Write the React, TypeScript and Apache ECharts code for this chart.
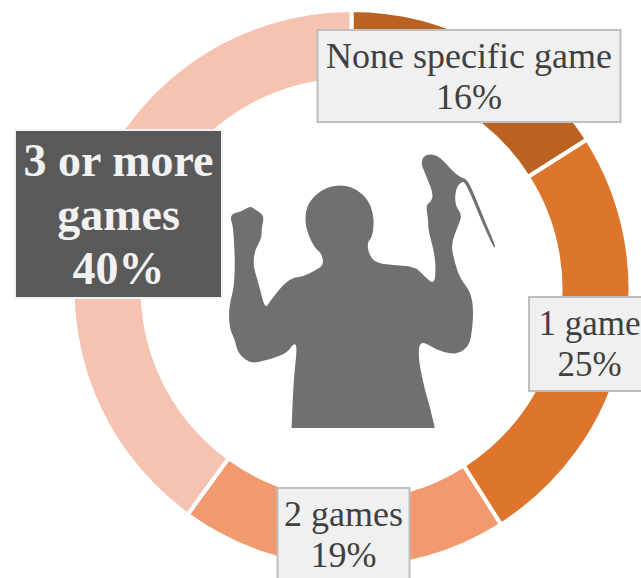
import React, { useEffect, useRef } from "react";
import * as echarts from "echarts";

const categories = ["None specific game", "1 game", "2 games", "3 or more games"];
const labelNames = ["None specific game", "1 game", "2 games", "3 or more\ngames"];
const shares = [16, 25, 19, 40];
const sliceColors = ["#B96222", "#DE752C", "#F19A6F", "#F6C2B1"];
const labelFontSizes = [36, 35, 36, 46];

// Label boxes: centre x, centre y, width, height
const labelBoxes = [
  [469, 76, 301, 90],
  [589.5, 344, 119, 92],
  [343.5, 534, 130, 90],
  [118.5, 214, 205, 166],
];

// Silhouette outline, smoothed through the midpoints of its segments when built
const PERSON_OUTLINE = [
  [215, 835], [215, 835], [218, 760], [222, 680], [232, 590], [222, 580], [205, 605], [180, 618], [135, 632],
  [100, 640], [75, 630], [52, 605], [45, 570], [30, 540], [26, 490], [32, 450], [42, 410], [45, 340],
  [42, 270], [38, 225], [31, 205], [38, 190], [65, 185], [90, 168], [108, 180], [130, 195], [130, 215],
  [125, 235], [125, 265], [105, 300], [100, 340], [105, 365], [118, 410], [135, 477], [150, 455], [185, 410],
  [215, 385], [250, 380], [285, 362], [312, 345], [305, 310], [285, 295], [265, 255], [255, 215], [260, 170],
  [285, 135], [320, 112], [370, 104], [415, 120], [445, 150], [460, 190], [462, 230], [455, 265], [443, 275],
  [445, 308], [465, 338], [510, 345], [585, 350], [610, 375], [645, 407], [648, 340], [640, 295], [632, 265],
  [625, 235], [625, 205], [618, 165], [635, 155], [640, 130], [622, 85], [612, 60], [604, 40], [612, 16],
  [640, 12], [665, 25], [690, 55], [720, 82], [742, 88], [762, 130], [792, 205], [826, 285], [826, 295],
  [818, 285], [784, 210], [754, 135], [735, 97], [725, 95], [708, 115], [705, 165], [728, 195], [712, 235],
  [695, 280], [700, 320], [720, 385], [752, 425], [762, 480], [755, 560], [745, 590], [720, 610], [690, 612],
  [650, 600], [600, 570], [595, 625], [615, 720], [630, 770], [645, 835], [645, 835],
];

const mid = (a: number[], b: number[]) => `${(a[0] + b[0]) / 2},${(a[1] + b[1]) / 2}`;
const PERSON_PATH =
  `M${PERSON_OUTLINE[0].join(",")} ` +
  PERSON_OUTLINE.slice(1, -1)
    .map((p, i) => `Q${p.join(",")} ${mid(p, PERSON_OUTLINE[i + 2])}`)
    .join(" ") +
  " Z";

echarts.graphic.registerShape("person", echarts.graphic.extendPath(PERSON_PATH, {}) as any);

export default function App() {
  const ref = useRef<HTMLDivElement>(null);

  useEffect(() => {
    document.body.style.margin = "0";
    const chart = echarts.init(ref.current!, undefined, { renderer: "svg" });

    const data = categories.map((name, i) => {
      const emphasised = i === 3;
      const [, , width, height] = labelBoxes[i];
      return {
        name,
        value: shares[i],
        itemStyle: { color: sliceColors[i] },
        label: {
          formatter: `${labelNames[i]}\n${shares[i]}%`,
          width,
          height,
          align: "center" as const,
          verticalAlign: "middle" as const,
          fontFamily: "'Liberation Serif', serif",
          fontSize: labelFontSizes[i],
          fontWeight: emphasised ? ("bold" as const) : ("normal" as const),
          lineHeight: emphasised ? 54 : 41,
          color: emphasised ? "#F2F2F2" : "#404040",
          backgroundColor: emphasised ? "#595959" : "#F0F0F0",
          borderColor: emphasised ? "#F2F2F2" : "#BFBFBF",
          borderWidth: 2,
        },
      };
    });

    chart.setOption({
      animation: false,
      backgroundColor: "#FFFFFF",
      series: [
        {
          type: "pie",
          center: [351.5, 289],
          radius: [209, 279],
          startAngle: 90,
          clockwise: true,
          avoidLabelOverlap: false,
          silent: true,
          itemStyle: { borderColor: "#FFFFFF", borderWidth: 4 },
          label: { show: true, position: "inside" },
          labelLine: { show: false },
          labelLayout: (params: { dataIndex: number }) => {
            const [x, y] = labelBoxes[params.dataIndex];
            return { x, y, align: "center", verticalAlign: "middle" };
          },
          data,
        },
      ],
      graphic: [
        {
          type: "person",
          x: 220,
          y: 150,
          scaleX: 1 / 3,
          scaleY: 1 / 3,
          style: { fill: "#707070" },
        },
      ],
    });

    return () => chart.dispose();
  }, []);

  return <div ref={ref} style={{ width: 641, height: 578 }} />;
}
